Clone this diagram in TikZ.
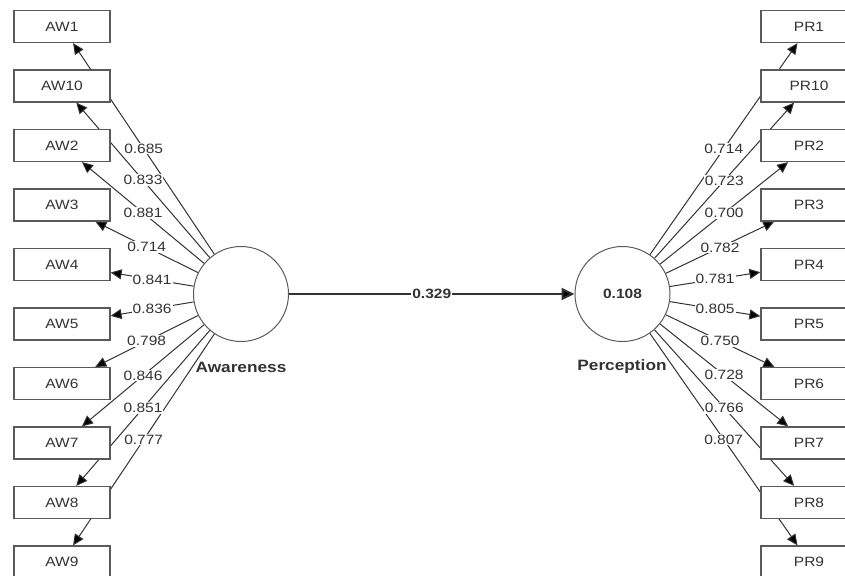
\documentclass[tikz,border=0pt]{standalone}
\usepackage{fontspec}
\setmainfont[FakeStretch=1.15]{Liberation Sans}
\usetikzlibrary{arrows.meta}
\pgfdeclarelayer{bg}
\pgfsetlayers{bg,main}
\definecolor{ink}{HTML}{333333}
\definecolor{edgec}{HTML}{5A5A5A}
\begin{document}
\begin{tikzpicture}[x=1pt,y=-1pt,
  ind/.style={draw=edgec,line width=1.2pt,fill=white,minimum width=96pt,minimum height=32pt,inner sep=0pt,font=\fontsize{13.5}{13.5}\selectfont,text=ink},
  lv/.style={circle,draw=edgec,line width=1pt,fill=white,minimum size=95pt,inner sep=0pt,font=\bfseries\fontsize{13.5}{13.5}\selectfont,text=ink},
  ld/.style={draw=ink,line width=1pt,-{Triangle[length=11pt,width=10pt,fill=black]}},
  mainarrow/.style={draw=ink,line width=2pt,-{Triangle[length=13pt,width=12pt,fill=black]}},
  lbl/.style={fill=white,inner sep=1pt,font=\fontsize{13.5}{13.5}\selectfont,text=ink},
  lvname/.style={font=\bfseries\fontsize{15}{15}\selectfont,text=ink,inner sep=1pt}]
\useasboundingbox (0,0) rectangle (845,575);
% latent variables
\node[lv] (aw) at (241,294) {};
\node[lv] (pr) at (622.5,294) {0.108};
\node[lvname] (awname) at (241,367) {Awareness};
\node[lvname] (prname) at (622,367) {Perception};
% indicators
\foreach \n [count=\i from 0] in {AW1,AW10,AW2,AW3,AW4,AW5,AW6,AW7,AW8,AW9}
  \node[ind] (\n) at (62,{26.5+59.5*\i}) {\n};
\foreach \n [count=\i from 0] in {PR1,PR10,PR2,PR3,PR4,PR5,PR6,PR7,PR8,PR9}
  \node[ind] (\n) at (809,{26.5+59.5*\i}) {\n};
% connectors
\begin{pgfonlayer}{bg}
\fill[white] (0,0) rectangle (845,575);
\foreach \n in {AW1,AW10,AW2,AW3,AW4,AW5,AW6,AW7,AW8,AW9}
  \draw[ld] (aw) -- coordinate[midway] (m\n) (\n);
\foreach \n in {PR1,PR10,PR2,PR3,PR4,PR5,PR6,PR7,PR8,PR9}
  \draw[ld] (pr) -- coordinate[midway] (m\n) (\n);
\end{pgfonlayer}
\draw[mainarrow] (aw) -- coordinate[midway] (mpath) (pr);
\node[lbl,font=\bfseries\fontsize{13.5}{13.5}\selectfont] (lpath) at (mpath) {0.329};
% loadings
\foreach \n/\v in {AW1/0.685,AW10/0.833,AW2/0.881,AW3/0.714,AW4/0.841,AW5/0.836,AW6/0.798,AW7/0.846,AW8/0.851,AW9/0.777,
                   PR1/0.714,PR10/0.723,PR2/0.700,PR3/0.782,PR4/0.781,PR5/0.805,PR6/0.750,PR7/0.728,PR8/0.766,PR9/0.807}
  \node[lbl] (l\n) at (m\n) {\v};
\end{tikzpicture}
\end{document}
